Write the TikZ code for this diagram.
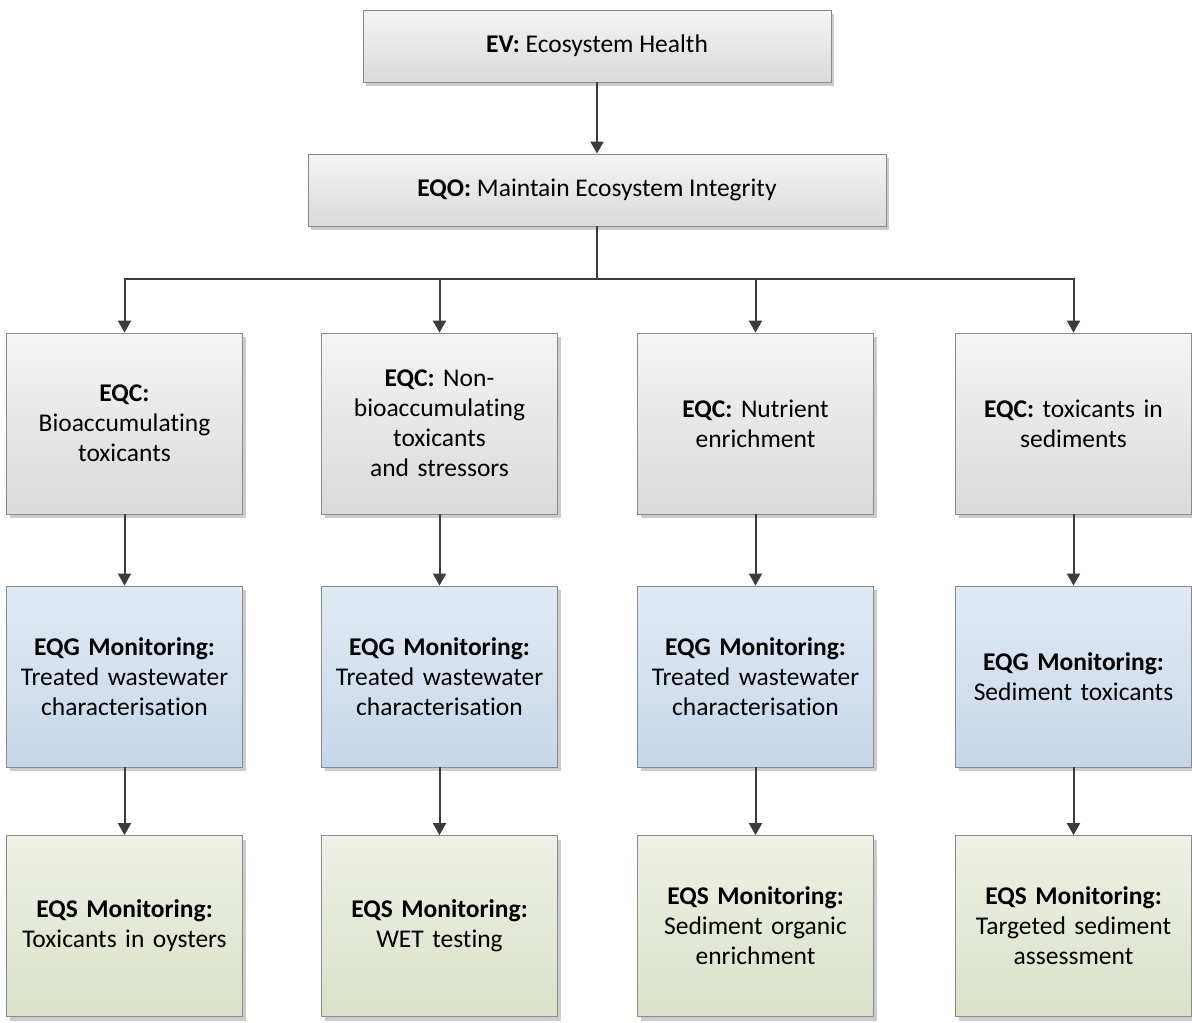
\documentclass[tikz,border=0pt]{standalone}
\usepackage{fontspec}
\setmainfont[Ligatures=NoCommon]{Carlito}
\usetikzlibrary{arrows.meta,shadows}
\definecolor{gtop}{HTML}{F4F4F4}
\definecolor{gbot}{HTML}{DADADA}
\definecolor{btop}{HTML}{E1EAF4}
\definecolor{bbot}{HTML}{C6D7EA}
\definecolor{ttop}{HTML}{EEF1E6}
\definecolor{tbot}{HTML}{D9E1C8}
\definecolor{bord}{HTML}{8A8A8A}
\definecolor{linec}{HTML}{3C3C3C}
\begin{document}
\begin{tikzpicture}[x=1pt,y=-1pt,
  basebox/.style={draw=bord, line width=0.8pt, align=center, inner sep=4pt,
    font=\fontsize{25.5}{30}\selectfont, text=black,
    drop shadow={shadow xshift=3pt, shadow yshift=-4pt, fill=black, opacity=0.2}},
  greybox/.style={basebox, top color=gtop, bottom color=gbot},
  bluebox/.style={basebox, top color=btop, bottom color=bbot},
  tanbox/.style={basebox, top color=ttop, bottom color=tbot},
  colbox/.style={minimum width=234pt, minimum height=181pt, text width=228pt},
  conn/.style={draw=linec, line width=2pt},
  arr/.style={conn, -{Triangle[width=13pt,length=12pt]}}
]
\useasboundingbox[fill=white] (0,0) rectangle (1192,1023);

\node[greybox, minimum width=468pt, minimum height=72pt] (ev) at (597,46) {\textbf{EV:} Ecosystem Health};
\node[greybox, minimum width=578pt, minimum height=72pt] (eqo) at (597,190) {\textbf{EQO:} Maintain Ecosystem Integrity};

\node[greybox, colbox] (c1) at (124.5,423.5) {\textbf{EQC:}\\Bioaccumulating\\toxicants};
\node[greybox, colbox] (c2) at (439.5,423.5) {\textbf{EQC:} Non-\\bioaccumulating\\toxicants\\and stressors};
\node[greybox, colbox] (c3) at (755.5,423.5) {\textbf{EQC:} Nutrient\\enrichment};
\node[greybox, colbox] (c4) at (1073.5,423.5) {\textbf{EQC:} toxicants in\\sediments};

\node[bluebox, colbox] (g1) at (124.5,676.5) {\textbf{EQG Monitoring:}\\Treated wastewater\\characterisation};
\node[bluebox, colbox] (g2) at (439.5,676.5) {\textbf{EQG Monitoring:}\\Treated wastewater\\characterisation};
\node[bluebox, colbox] (g3) at (755.5,676.5) {\textbf{EQG Monitoring:}\\Treated wastewater\\characterisation};
\node[bluebox, colbox] (g4) at (1073.5,676.5) {\textbf{EQG Monitoring:}\\Sediment toxicants};

\node[tanbox, colbox] (s1) at (124.5,926) {\textbf{EQS Monitoring:}\\Toxicants in oysters};
\node[tanbox, colbox] (s2) at (439.5,926) {\textbf{EQS Monitoring:}\\WET testing};
\node[tanbox, colbox] (s3) at (755.5,926) {\textbf{EQS Monitoring:}\\Sediment organic\\enrichment};
\node[tanbox, colbox] (s4) at (1073.5,926) {\textbf{EQS Monitoring:}\\Targeted sediment\\assessment};

\draw[arr] (ev) -- (eqo);
\coordinate (hub) at (597,279);
\draw[conn] (eqo.south) -- (hub);
\foreach \c in {c1,c2,c3,c4} {\draw[arr] (hub) -| (\c.north);}
\foreach \i in {1,2,3,4} {
  \draw[arr] (c\i) -- (g\i);
  \draw[arr] (g\i) -- (s\i);
}
\end{tikzpicture}
\end{document}
